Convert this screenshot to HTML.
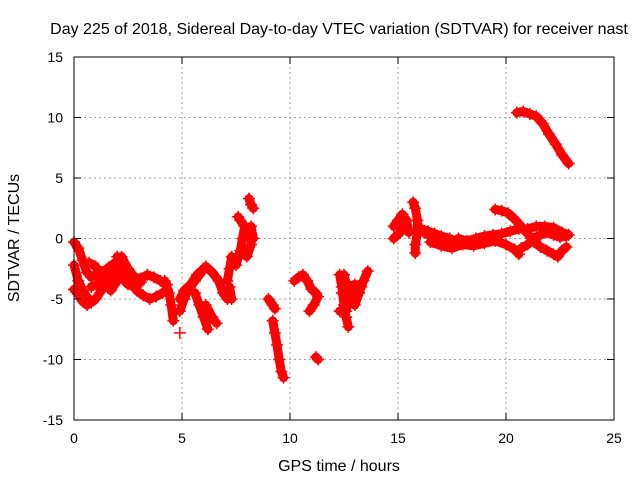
<!DOCTYPE html>
<html><head><meta charset="utf-8"><style>
body{margin:0;background:#fff;}
svg text{font-family:"Liberation Sans",sans-serif;fill:#000;}
</style></head><body>
<svg id="chart" width="640" height="480" viewBox="0 0 640 480">
<text x="339" y="34" font-size="16" text-anchor="middle">Day 225 of 2018, Sidereal Day-to-day VTEC variation (SDTVAR) for receiver nast</text>
<text x="339" y="471" font-size="16" text-anchor="middle">GPS time / hours</text>
<text x="19" y="238" font-size="16" text-anchor="middle" transform="rotate(-90 19 238)">SDTVAR / TECUs</text>
<g id="grid"></g><g id="marks"></g><g id="axes"></g>
</svg>
<script>
const xTicks=[0,5,10,15,20,25];
const yTicks=[15,10,5,0,-5,-10,-15];
const tracks=[
[[0,-0.3],[0.2,-0.8],[0.4,-1.8],[0.6,-2.8],[0.8,-3.2],[1.0,-3.0],[1.3,-2.8],[1.6,-2.4],[1.9,-2.0],[2.2,-1.5],[2.5,-2.5],[2.8,-3.2],[3.1,-3.3],[3.4,-3.0],[3.7,-3.2],[4.0,-3.5],[4.3,-3.8]],
[[0,-2.2],[0.2,-3.5],[0.4,-4.3],[0.6,-4.8],[0.8,-5.3],[1.0,-5.0],[1.3,-4.2],[1.6,-3.8],[1.9,-3.0],[2.1,-2.5]],
[[0.7,-2.0],[1.0,-2.3],[1.3,-3.5],[1.6,-3.0],[1.9,-2.5],[2.2,-3.2],[2.5,-3.8],[2.8,-4.0],[3.1,-3.6]],
[[0.8,-4.0],[1.1,-3.8],[1.4,-3.2],[1.7,-4.3],[2.0,-3.5]],
[[0,-4.2],[0.2,-4.6],[0.4,-5.2],[0.6,-5.5]],
[[2.0,-1.5],[2.3,-2.4],[2.6,-3.5],[2.9,-4.3],[3.2,-4.7],[3.5,-5.0],[3.8,-4.8],[4.1,-4.5],[4.3,-4.2]],
[[4.2,-3.5],[4.4,-4.5],[4.5,-5.5],[4.6,-6.8]],
[[4.9,-7.8]],
[[4.9,-6.0],[5.1,-5.0],[5.3,-4.2],[5.6,-3.5],[5.9,-2.8],[6.1,-2.3],[6.4,-2.8],[6.7,-3.5],[6.9,-4.5],[7.1,-5.0]],
[[4.9,-5.0],[5.1,-4.3],[5.4,-3.8],[5.7,-3.0],[6.0,-2.5]],
[[5.6,-4.5],[5.8,-5.5],[6.0,-6.5],[6.2,-7.5]],
[[6.1,-5.5],[6.4,-6.5],[6.6,-7.0]],
[[7.1,-3.5],[7.2,-2.5],[7.3,-1.5],[7.5,-2.2],[7.7,-1.0],[7.8,0],[7.9,1.0],[7.7,1.5],[7.6,1.8]],
[[7.2,-4.0],[7.3,-5.0]],
[[8.0,-1.5],[8.2,-0.5],[8.2,1.0],[8.3,0]],
[[8.1,3.3],[8.2,2.8],[8.3,2.5]],
[[9.0,-5.0],[9.2,-5.5],[9.3,-5.8]],
[[9.2,-6.8],[9.3,-7.8],[9.4,-8.8],[9.5,-10],[9.6,-11],[9.7,-11.5]],
[[10.2,-3.5],[10.4,-3.2],[10.6,-3.0],[10.8,-3.5],[11.0,-4.2],[11.2,-4.5]],
[[10.9,-6.0],[11.1,-5.5],[11.3,-4.8]],
[[11.2,-9.8],[11.3,-10.0]],
[[12.3,-3.0],[12.4,-4.0],[12.5,-5.5],[12.6,-6.5],[12.7,-7.3]],
[[12.5,-3.0],[12.8,-5.0],[13.0,-5.5],[13.2,-4.5],[13.4,-3.5],[13.6,-2.7]],
[[12.3,-6.0],[12.6,-6.0],[12.9,-4.0]],
[[12.4,-4.5],[12.7,-4.0],[13.0,-3.8],[13.3,-4.0]],
[[14.8,1.0],[15.0,1.5],[15.2,2.0],[15.4,1.5],[15.5,0.5]],
[[14.8,0],[15.1,0.5],[15.3,1.0]],
[[15.7,3.0],[15.8,2.5],[15.9,1.5],[15.9,0.5],[15.8,-0.5],[15.8,-1.2]],
[[16.2,0.5],[16.5,0.2],[16.8,-0.2],[17.1,-0.3],[17.5,-0.3],[17.8,0],[18.2,-0.2],[18.6,0],[19.0,0.2],[19.4,0.3],[19.8,0.4],[20.2,0.6],[20.6,0.8],[21.0,0.8],[21.4,1.0],[21.8,1.0],[22.2,0.9],[22.6,0.5],[22.9,0.3]],
[[16.1,0.8],[16.4,0.6],[16.7,0.4],[17.0,0.2],[17.4,0],[17.8,-0.4]],
[[16.5,-0.3],[17.0,-0.6],[17.5,-0.8],[18.0,-0.5],[18.5,-0.6],[19.0,-0.4],[19.5,-0.2],[20.0,-0.5],[20.4,-0.9],[20.6,-1.3]],
[[19.5,2.4],[19.8,2.3],[20.1,2.1],[20.4,1.6],[20.7,1.0],[21.0,0.4],[21.3,-0.3],[21.6,-0.7],[21.9,-1.0],[22.2,-1.3],[22.4,-1.5],[22.6,-1.0],[22.8,-0.7]],
[[20.7,-0.8],[21.0,-0.5],[21.3,0],[21.6,0.3],[21.9,0.5],[22.2,0.3],[22.5,0.1],[22.8,0.2]],
[[20.5,10.4],[20.8,10.5],[21.1,10.3],[21.4,10.1],[21.7,9.5],[22.0,8.6],[22.3,7.8],[22.6,6.9],[22.9,6.2]]
];
const X0=74,X1=614,Y0=57,Y1=420;
function sx(t){return X0+(t-0)/(25-0)*(X1-X0);}
function sy(v){return Y1-(v+15)/30*(Y1-Y0);}
const NS='http://www.w3.org/2000/svg';
function mk(tag,attrs,parent){const e=document.createElementNS(NS,tag);for(const k in attrs)e.setAttribute(k,attrs[k]);parent.appendChild(e);return e;}
const grid=document.getElementById('grid'),marks=document.getElementById('marks'),axes=document.getElementById('axes');
xTicks.forEach(t=>{
 const x=sx(t);
 if(t>0&&t<25){const g=mk('line',{x1:x,x2:x,y1:Y0,y2:Y1,stroke:'#a0a0a0','stroke-dasharray':'2,3'},grid);
 
 }
 mk('line',{x1:x,x2:x,y1:Y1,y2:Y1-7,stroke:'#000'},axes);
 mk('line',{x1:x,x2:x,y1:Y0,y2:Y0+7,stroke:'#000'},axes);
 const l=mk('text',{x:x,y:Y1+23,'font-size':14,'text-anchor':'middle'},axes);l.textContent=t;
 
 
});
yTicks.forEach(v=>{
 const y=sy(v);
 if(v>-15&&v<15){const g=mk('line',{x1:X0,x2:X1,y1:y,y2:y,stroke:'#a0a0a0','stroke-dasharray':'2,3'},grid);
 
 }
 mk('line',{x1:X0,x2:X0+7,y1:y,y2:y,stroke:'#000'},axes);
 mk('line',{x1:X1,x2:X1-7,y1:y,y2:y,stroke:'#000'},axes);
 const l=mk('text',{x:X0-11,y:y+5,'font-size':14,'text-anchor':'end'},axes);l.textContent=v;
 
 
});
const box=mk('rect',{x:X0,y:Y0,width:X1-X0,height:Y1-Y0,fill:'none',stroke:'#000'},axes);


tracks.forEach(tr=>{
 const pl=mk('polyline',{points:tr.map(p=>sx(p[0])+','+sy(p[1])).join(' '),fill:'none',stroke:'#f00','stroke-width':9,'stroke-linejoin':'round','stroke-linecap':'round'},marks);
 
 
 tr.forEach(p=>{
  const x=sx(p[0]),y=sy(p[1]);
  const m=mk('path',{d:`M${x-6},${y}h12M${x},${y-6}v12`,stroke:'#f00','stroke-width':1.5},marks);
  
  
 });
});
</script>
</body></html>
